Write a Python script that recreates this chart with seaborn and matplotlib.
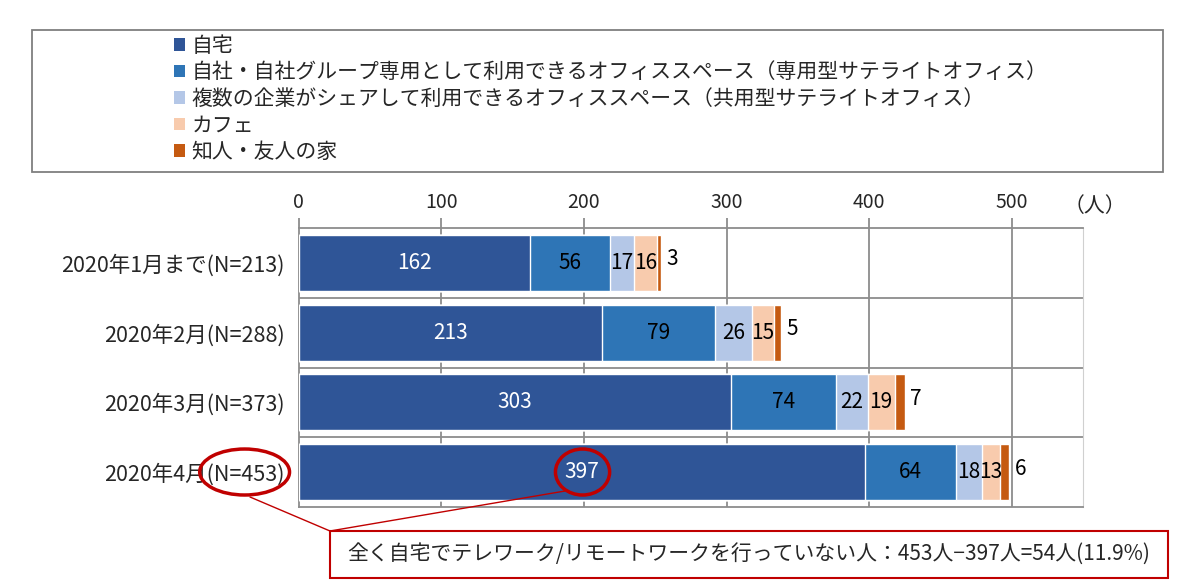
import numpy as np
import pandas as pd
import matplotlib
matplotlib.use('Agg')
import matplotlib.pyplot as plt
import seaborn as sns
from matplotlib.patches import Rectangle, Ellipse, Patch
from matplotlib.lines import Line2D

sns.set_style('white')
plt.rcParams['font.family'] = ['Noto Sans CJK JP', 'DejaVu Sans']

periods = ['2020年1月まで(N=213)', '2020年2月(N=288)', '2020年3月(N=373)', '2020年4月(N=453)']
places = ['自宅',
          '自社・自社グループ専用として利用できるオフィススペース（専用型サテライトオフィス）',
          '複数の企業がシェアして利用できるオフィススペース（共用型サテライトオフィス）',
          'カフェ',
          '知人・友人の家']
jitaku = [162, 213, 303, 397]
jisha = [56, 79, 74, 64]
kyoyo = [17, 26, 22, 18]
cafe = [16, 15, 19, 13]
chijin = [3, 5, 7, 6]
colors = ['#2F5597', '#2E75B6', '#B4C7E7', '#F8CBAD', '#C55A11']
label_colors = ['white', 'black', 'black', 'black', 'black']

vals = np.array([jitaku, jisha, kyoyo, cafe, chijin])
cum = vals.cumsum(axis=0)

fig = plt.figure(figsize=(12, 5.88), dpi=100)
ax = fig.add_axes([0.249, 0.138, 0.6535, 0.474])

# 積み上げ：合計から順に重ねて描く
for i in range(len(places) - 1, -1, -1):
    df = pd.DataFrame({'period': periods, 'value': cum[i]})
    sns.barplot(data=df, x='value', y='period', color=colors[i], orient='h',
                width=0.8, saturation=1, ax=ax, zorder=3)

# 数値ラベル
for j in range(len(periods)):
    for i in range(len(places)):
        left = cum[i][j] - vals[i][j]
        if i == len(places) - 1:
            ax.text(cum[i][j] + 4, j - 0.05, str(vals[i][j]), ha='left', va='center',
                    fontsize=15, color='black', zorder=5)
        else:
            ax.text(left + vals[i][j] / 2, j, str(vals[i][j]), ha='center', va='center',
                    fontsize=15, color=label_colors[i], zorder=5)

ax.set_xlim(0, 550)
ax.set_ylim(3.5, -0.5)
ax.xaxis.tick_top()
ax.set_xticks([0, 100, 200, 300, 400, 500])
ax.tick_params(axis='x', direction='out', length=7, width=1.3, color='#8c8c8c',
               labelsize=14, pad=4, top=True, bottom=False)
ax.set_yticks(range(len(periods)))
ax.set_yticklabels(periods)
ax.set_yticks([-0.5, 0.5, 1.5, 2.5, 3.5], minor=True)
ax.tick_params(axis='y', which='major', length=0, labelsize=15.5, pad=10)
ax.tick_params(axis='y', which='minor', direction='out', length=7, width=1.3, color='#8c8c8c')
ax.set_xlabel('')
ax.set_ylabel('')
for x in [100, 200, 300, 400, 500]:
    ax.axvline(x, color='#8c8c8c', lw=1.3, zorder=1)
for y in [0.5, 1.5, 2.5]:
    ax.axhline(y, color='#8c8c8c', lw=1.3, zorder=1)
for s in ['top', 'bottom', 'left']:
    ax.spines[s].set_color('#8c8c8c')
    ax.spines[s].set_linewidth(1.3)
ax.spines['right'].set_color('#d0d0d0')
ax.text(0.975, 1.04, '（人）', transform=ax.transAxes, ha='left', va='bottom', fontsize=15)

# 凡例
fig.add_artist(Rectangle((0.0267, 0.7075), 0.9425, 0.2415, transform=fig.transFigure,
                         fill=False, edgecolor='#7f7f7f', lw=1.3))
handles = [Patch(facecolor=c, edgecolor='none') for c in colors]
fig.legend(handles, places, loc='upper left', bbox_to_anchor=(0.138, 0.955),
           frameon=False, fontsize=15, handlelength=0.55, handleheight=0.55,
           handletextpad=0.3, labelspacing=0.22, borderaxespad=0)

# 注記
ax.add_patch(Ellipse((199, 3), 38, 0.66, fill=False, edgecolor='#C00000', lw=2.5,
                     zorder=6, clip_on=False))
ax.add_patch(Ellipse((-38, 3), 63, 0.66, fill=False, edgecolor='#C00000', lw=2.5,
                     zorder=6, clip_on=False))
fig.add_artist(Line2D([250 / 1200, 330 / 1200], [1 - 497 / 588, 1 - 531 / 588],
                      transform=fig.transFigure, color='#C00000', lw=1))
fig.add_artist(Line2D([565 / 1200, 330 / 1200], [1 - 491 / 588, 1 - 531 / 588],
                      transform=fig.transFigure, color='#C00000', lw=1))
fig.add_artist(Rectangle((330 / 1200, 1 - 578 / 588), 838 / 1200, 47 / 588,
                         transform=fig.transFigure, fill=False, edgecolor='#C00000', lw=1.5))
fig.text(749 / 1200, 1 - 554 / 588, '全く自宅でテレワーク/リモートワークを行っていない人：453人−397人=54人(11.9%)',
         ha='center', va='center', fontsize=15)

plt.savefig('out.png')
